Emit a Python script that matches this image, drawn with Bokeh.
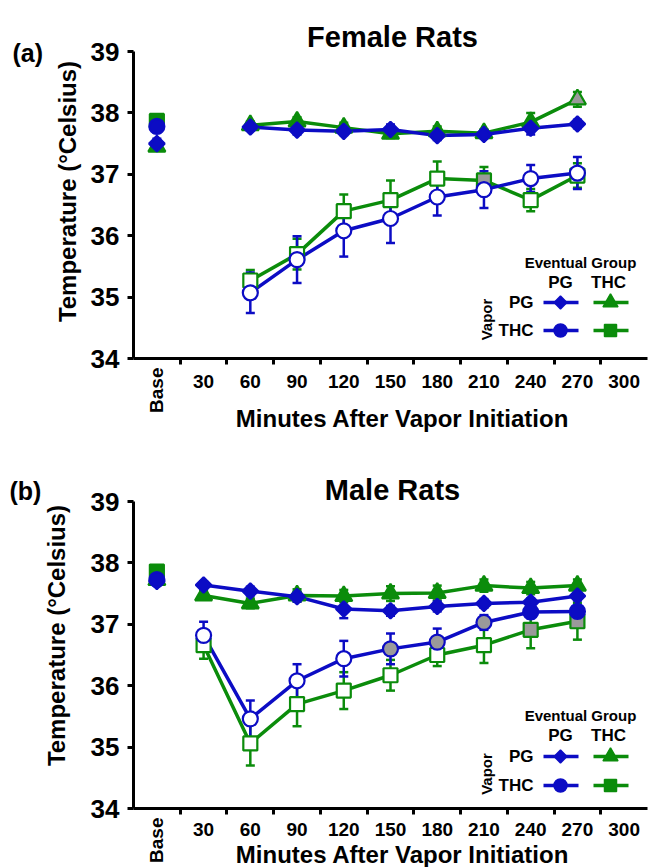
from math import pi
from bokeh.plotting import figure
from bokeh.models import ColumnDataSource, Whisker, TeeHead, Label, FixedTicker, Range1d
from bokeh.layouts import column
from bokeh.embed import file_html
from bokeh.resources import INLINE

# ---------------- data ----------------
categories = ["Base", "30", "60", "90", "120", "150", "180", "210", "240", "270", "300"]

# Female rats (time points 60..270)
f_minutes = ["60", "90", "120", "150", "180", "210", "240", "270"]
f_pgpg_base, f_pgpg_base_err = 37.50, 0.08
f_pgpg = [37.77, 37.72, 37.70, 37.73, 37.63, 37.65, 37.75, 37.82]
f_pgpg_err = [0.06, 0.07, 0.06, 0.08, 0.07, 0.06, 0.10, 0.07]
f_pgpg_fill = ["filled"] * 8

f_pgthc_base, f_pgthc_base_err = 37.45, 0.06
f_pgthc = [37.80, 37.86, 37.76, 37.66, 37.70, 37.67, 37.85, 38.22]
f_pgthc_err = [0.06, 0.07, 0.08, 0.07, 0.08, 0.06, 0.15, 0.12]
f_pgthc_fill = ["filled", "filled", "filled", "filled", "filled", "filled", "filled", "gray"]

f_thcpg_base, f_thcpg_base_err = 37.78, 0.10
f_thcpg = [35.07, 35.61, 36.08, 36.28, 36.63, 36.75, 36.93, 37.02]
f_thcpg_err = [0.33, 0.38, 0.42, 0.40, 0.30, 0.30, 0.22, 0.26]
f_thcpg_fill = ["open"] * 8

f_thcthc_base, f_thcthc_base_err = 37.87, 0.08
f_thcthc = [35.27, 35.70, 36.40, 36.58, 36.93, 36.90, 36.58, 36.98]
f_thcthc_err = [0.17, 0.25, 0.27, 0.32, 0.28, 0.22, 0.18, 0.20]
f_thcthc_fill = ["open", "open", "open", "open", "open", "gray", "open", "open"]

# Male rats (time points 30..270)
m_minutes = ["30", "60", "90", "120", "150", "180", "210", "240", "270"]
m_pgpg_base, m_pgpg_base_err = 37.70, 0.06
m_pgpg = [37.64, 37.54, 37.45, 37.25, 37.22, 37.29, 37.34, 37.36, 37.46]
m_pgpg_err = [0.06, 0.07, 0.08, 0.15, 0.08, 0.08, 0.07, 0.06, 0.07]
m_pgpg_fill = ["filled"] * 9

m_pgthc_base, m_pgthc_base_err = 37.72, 0.06
m_pgthc = [37.47, 37.34, 37.47, 37.46, 37.50, 37.51, 37.63, 37.59, 37.63]
m_pgthc_err = [0.07, 0.08, 0.10, 0.10, 0.12, 0.12, 0.10, 0.10, 0.10]
m_pgthc_fill = ["filled"] * 9

m_thcpg_base, m_thcpg_base_err = 37.73, 0.06
m_thcpg = [36.82, 35.46, 36.08, 36.44, 36.60, 36.71, 37.03, 37.20, 37.21]
m_thcpg_err = [0.22, 0.30, 0.27, 0.29, 0.25, 0.22, 0.12, 0.10, 0.10]
m_thcpg_fill = ["open", "open", "open", "open", "gray", "gray", "gray", "filled", "filled"]

m_thcthc_base, m_thcthc_base_err = 37.86, 0.06
m_thcthc = [36.66, 35.06, 35.70, 35.92, 36.17, 36.50, 36.66, 36.91, 37.05]
m_thcthc_err = [0.22, 0.36, 0.36, 0.30, 0.25, 0.18, 0.29, 0.30, 0.30]
m_thcthc_fill = ["open", "open", "open", "open", "open", "open", "open", "gray", "gray"]

y_ticks = [34, 35, 36, 37, 38, 39]
y_min, y_max = 34, 39

# ---------------- style ----------------
FONT = "Liberation Sans"
BLUE = "#0C0CC4"
GREEN = "#0B8C0B"
GRAY = "#9A9A9A"
FILL = {"open": "white", "gray": GRAY}

FIG_W = 649
AX_LEFT = 133     # pixel x of the y axis
AX_W = 514        # pixel width of the category axis
PPY = 61.4        # pixels per degree


def fill_colors(states, color):
    return [FILL.get(s, color) for s in states]


def make_panel(title, tag, minutes, series, fig_h, ref):
    ncat = len(categories)
    ppx = AX_W / ncat
    fb = ref["fb"]          # pixel y (within this figure) of the x axis

    def X(px):
        return (px - AX_LEFT) / ppx - 0.5

    def Y(py):
        return y_min + (fb - py) / PPY

    p = figure(width=FIG_W, height=fig_h,
               x_range=Range1d(X(0), X(FIG_W)), y_range=Range1d(Y(fig_h), Y(0)),
               output_backend="svg", toolbar_location=None,
               min_border_left=0, min_border_right=0, min_border_top=0, min_border_bottom=0)
    p.title.visible = False
    p.outline_line_color = None
    p.xgrid.visible = False
    p.ygrid.visible = False
    p.background_fill_color = "white"

    # axes placed at the data edges
    ya = p.yaxis[0]
    ya.fixed_location = -0.5
    ya.bounds = (y_min, y_max)
    ya.ticker = FixedTicker(ticks=y_ticks, minor_ticks=[])
    ya.axis_line_width = 3
    ya.major_tick_line_width = 3
    ya.major_tick_in = 0
    ya.major_tick_out = 6
    ya.minor_tick_line_color = None
    ya.major_label_text_font = FONT
    ya.major_label_text_font_style = "bold"
    ya.major_label_text_font_size = "26px"
    ya.major_label_text_color = "black"
    ya.major_label_standoff = 8

    xa = p.xaxis[0]
    idx = list(range(1, ncat))
    xa.fixed_location = y_min
    xa.bounds = (-0.5, ncat - 0.5)
    xa.ticker = FixedTicker(ticks=idx, minor_ticks=[i - 0.5 for i in idx])
    xa.major_label_overrides = {i: categories[i] for i in idx}
    xa.axis_line_width = 3
    xa.major_tick_line_color = None
    xa.major_tick_in = 0
    xa.major_tick_out = 6
    xa.minor_tick_line_width = 3
    xa.minor_tick_line_color = "black"
    xa.minor_tick_in = 0
    xa.minor_tick_out = 6
    xa.major_label_text_font = FONT
    xa.major_label_text_font_style = "bold"
    xa.major_label_text_font_size = "19px"
    xa.major_label_text_color = "black"
    xa.major_label_standoff = ref["xtick_standoff"]

    def lab(x, y, text, size, align="center", baseline="middle", angle=0):
        p.add_layout(Label(x=x, y=y, text=text, text_font=FONT, text_font_style="bold",
                           text_font_size=size, text_align=align, text_baseline=baseline,
                           angle=angle, text_color="black"))

    # texts outside the data area
    lab(0, Y(fb + 9), categories[0], "19px", align="right", angle=pi / 2)
    lab(X(392), Y(ref["title_base"]), title, "29px", baseline="alphabetic")
    lab(X(ref["tag_x"]), Y(ref["tag_base"]), tag, "25px", align="left", baseline="alphabetic")
    lab(X(ref["ylab_x"]), Y(ref["ylab_y"]), "Temperature (°Celsius)", "24px", angle=pi / 2)
    lab(X(402), Y(fb + ref["xlab_base"]), "Minutes After Vapor Initiation", "24px",
        baseline="alphabetic")

    # series
    xs = [categories.index(m) for m in minutes]
    order = ["pgthc", "thcthc", "pgpg", "thcpg"]
    for key in order:
        s = series[key]
        p.line(xs, s["vals"], line_color=s["color"], line_width=3.5)
    for key in order:
        s = series[key]
        bx = [0] + xs
        bv = [s["base"]] + s["vals"]
        be = [s["base_err"]] + s["errs"]
        src = ColumnDataSource(dict(x=bx, upper=[v + e for v, e in zip(bv, be)],
                                    lower=[v - e for v, e in zip(bv, be)]))
        w = Whisker(source=src, base="x", upper="upper", lower="lower",
                    line_color=s["color"], line_width=2.5, level="underlay",
                    upper_head=TeeHead(size=9, line_color=s["color"], line_width=2.5),
                    lower_head=TeeHead(size=9, line_color=s["color"], line_width=2.5))
        p.add_layout(w)
    for key in order:
        s = series[key]
        bx = [0] + xs
        bv = [s["base"]] + s["vals"]
        fills = [s["color"]] + fill_colors(s["fill"], s["color"])
        p.scatter(bx, bv, marker=s["marker"], size=s["size"], angle=s["angle"],
                  fill_color=fills, line_color=s["color"], line_width=2.2)

    # legend (2x2 grid)
    L = ref["leg"]
    lab(X(580), Y(L[0]), "Eventual Group", "15px")
    lab(X(560), Y(L[1]), "PG", "17px")
    lab(X(608), Y(L[1]), "THC", "17px")
    lab(X(533), Y(L[2]), "PG", "17px", align="right")
    lab(X(533), Y(L[3]), "THC", "17px", align="right")
    lab(X(486), Y((L[2] + L[3]) / 2 + 3), "Vapor", "15px", angle=pi / 2)
    cells = [("pgpg", 560, L[2]), ("pgthc", 610, L[2]), ("thcpg", 560, L[3]), ("thcthc", 610, L[3])]
    for key, cx, cy in cells:
        s = series[key]
        p.line([X(cx - 17), X(cx + 18)], [Y(cy), Y(cy)], line_color=s["color"], line_width=3.5)
        p.scatter([X(cx)], [Y(cy)], marker=s["marker"], size=s["size"] - 2, angle=s["angle"],
                  fill_color=s["color"], line_color=s["color"], line_width=1.5)
    return p


def build_series(pgpg, pgthc, thcpg, thcthc):
    out = {}
    spec = {"pgpg": (BLUE, "square", 11, pi / 4), "pgthc": (GREEN, "triangle", 17, 0),
            "thcpg": (BLUE, "circle", 15, 0), "thcthc": (GREEN, "square", 14, 0)}
    for key, d in zip(["pgpg", "pgthc", "thcpg", "thcthc"], [pgpg, pgthc, thcpg, thcthc]):
        color, marker, size, angle = spec[key]
        out[key] = dict(base=d[0], base_err=d[1], vals=d[2], errs=d[3], fill=d[4],
                        color=color, marker=marker, size=size, angle=angle)
    return out


f_series = build_series(
    (f_pgpg_base, f_pgpg_base_err, f_pgpg, f_pgpg_err, f_pgpg_fill),
    (f_pgthc_base, f_pgthc_base_err, f_pgthc, f_pgthc_err, f_pgthc_fill),
    (f_thcpg_base, f_thcpg_base_err, f_thcpg, f_thcpg_err, f_thcpg_fill),
    (f_thcthc_base, f_thcthc_base_err, f_thcthc, f_thcthc_err, f_thcthc_fill))
m_series = build_series(
    (m_pgpg_base, m_pgpg_base_err, m_pgpg, m_pgpg_err, m_pgpg_fill),
    (m_pgthc_base, m_pgthc_base_err, m_pgthc, m_pgthc_err, m_pgthc_fill),
    (m_thcpg_base, m_thcpg_base_err, m_thcpg, m_thcpg_err, m_thcpg_fill),
    (m_thcthc_base, m_thcthc_base_err, m_thcthc, m_thcthc_err, m_thcthc_fill))

TOP_H = 432
# pixel positions inside each figure (bottom figure starts at page y = TOP_H)
ref_top = dict(fb=358, xtick_standoff=10, title_base=36, tag_x=12, tag_base=52,
               ylab_x=67, ylab_y=191, xlab_base=60, leg=[262, 282, 302, 330])
ref_bot = dict(fb=808 - TOP_H, xtick_standoff=8, title_base=489 - TOP_H, tag_x=9,
               tag_base=490 - TOP_H, ylab_x=56, ylab_y=635 - TOP_H, xlab_base=46,
               leg=[715 - TOP_H, 735 - TOP_H, 756 - TOP_H, 785 - TOP_H])

top = make_panel("Female Rats", "(a)", f_minutes, f_series, fig_h=TOP_H, ref=ref_top)
bot = make_panel("Male Rats", "(b)", m_minutes, m_series, fig_h=867 - TOP_H, ref=ref_bot)

layout = column(top, bot, spacing=0)
open("out.html", "w").write(file_html(layout, INLINE))
